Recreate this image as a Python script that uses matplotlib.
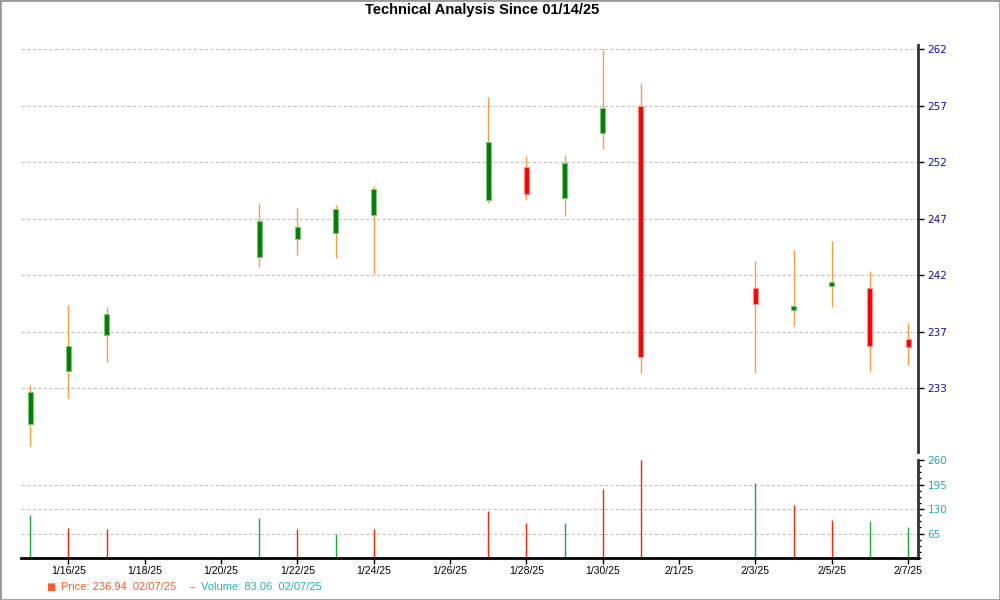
import matplotlib
matplotlib.use("Agg")
import matplotlib.pyplot as plt
import matplotlib.dates as mdates
from matplotlib.ticker import FixedLocator, MultipleLocator
from matplotlib.patches import Rectangle
import pandas as pd

# daily OHLC + volume
dates = ["2025-01-15", "2025-01-16", "2025-01-17", "2025-01-21", "2025-01-22", "2025-01-23",
         "2025-01-24", "2025-01-27", "2025-01-28", "2025-01-29", "2025-01-30", "2025-01-31",
         "2025-02-03", "2025-02-04", "2025-02-05", "2025-02-06", "2025-02-07"]
opens = [229.88, 234.47, 237.60, 244.34, 245.90, 246.42, 247.98, 249.28, 252.19, 249.45,
         255.09, 257.48, 241.65, 239.74, 241.85, 241.65, 237.22]
highs = [233.26, 240.20, 240.03, 249.02, 248.59, 248.85, 250.52, 258.21, 253.12, 253.21,
         262.38, 259.43, 244.01, 244.97, 245.75, 243.15, 238.61]
lows = [227.97, 232.13, 235.25, 243.52, 244.56, 244.30, 242.89, 249.02, 249.31, 247.94,
        253.75, 234.33, 234.33, 238.40, 240.05, 234.41, 235.02]
closes = [232.65, 236.64, 239.42, 247.51, 246.99, 248.55, 250.23, 254.36, 249.80, 252.54,
          257.26, 235.66, 240.29, 240.09, 242.22, 236.67, 236.53]
volumes = [113, 79.6, 76, 106, 77, 63, 77, 124.7, 92.8, 92.8, 183, 260, 199, 140.6, 100.8,
           98, 83.06]
volume_up = [True, False, False, True, False, True, False, False, False, True, False, False,
             True, False, False, True, True]

price_ticks = [233.0, 237.9, 242.8, 247.7, 252.6, 257.5, 262.4]
price_tick_labels = ["233", "237", "242", "247", "252", "257", "262"]
volume_ticks = [65, 130, 195, 260]
date_ticks = pd.date_range("2025-01-16", "2025-02-07", freq="2D")

title = "Technical Analysis Since 01/14/25"
legend_price = "Price: 236.94  02/07/25"
legend_volume = "Volume: 83.06  02/07/25"

GREEN, RED = "#008000", "#ff0000"
WICK = "#f4a040"

x = mdates.date2num(pd.to_datetime(dates))

fig = plt.figure(figsize=(10, 6), dpi=100)
ax = fig.add_axes([0.021, 0.2467, 0.897, 0.678])
axv = fig.add_axes([0.021, 0.07, 0.897, 0.1633], sharex=ax)

# candles
ax.vlines(x, lows, highs, color=WICK, lw=1, zorder=2)
for xi, o, c in zip(x, opens, closes):
    up = c >= o
    ax.bar(xi, max(abs(c - o), 0.25), bottom=min(o, c), width=0.13,
           color=GREEN if up else RED, edgecolor="#80c080" if up else "#ff9090",
           lw=0.8, zorder=3)

# volume sticks
axv.vlines(x, 0, volumes, colors=["#1aaa3a" if u else "#ff2200" for u in volume_up],
           lw=1, zorder=2)

ax.set_xlim(x[0] - 0.24, x[-1] + 0.26)
ax.set_ylim(227.45, 262.75)
axv.set_ylim(0, 260)

for a in (ax, axv):
    for s in ("left", "top"):
        a.spines[s].set_visible(False)
    a.spines["right"].set_linewidth(2)
    a.spines["right"].set_color("#333333")
    a.yaxis.tick_right()
    a.grid(axis="y", linestyle=(0, (3, 2)), color="#c4c4c4", lw=0.8, zorder=0)
    a.set_axisbelow(True)

ax.spines["bottom"].set_visible(False)
ax.tick_params(axis="x", bottom=False, labelbottom=False)
ax.yaxis.set_major_locator(FixedLocator(price_ticks))
ax.set_yticklabels(price_tick_labels)
ax.tick_params(axis="y", direction="out", length=4, width=1, pad=3,
               labelsize=7.5, labelcolor="#1010b0")

axv.spines["bottom"].set_linewidth(2)
axv.yaxis.set_major_locator(FixedLocator(volume_ticks))
axv.yaxis.set_minor_locator(MultipleLocator(16.25))
axv.tick_params(axis="y", which="major", direction="out", length=4, width=1, pad=3,
                labelsize=7.5, labelcolor="#20a8c0")
axv.tick_params(axis="y", which="minor", direction="out", length=2.5, width=1)
axv.set_xticks(mdates.date2num(date_ticks))
axv.set_xticklabels([f"{d.month}/{d.day}/{d:%y}" for d in date_ticks],
                    fontfamily="Liberation Sans", fontsize=7.5)
axv.tick_params(axis="x", direction="out", length=4, width=1, pad=2)
# no dashed line along the top of the volume panel
axv.yaxis.get_gridlines()[-1].set_visible(False)

fig.text(0.482, 1 - 10 / 600, title, ha="center", va="center", fontsize=10.5,
         fontweight="bold", family="Liberation Sans")

fig.text(0.046, 0.022, "■", color="#ff5a28", fontsize=7, va="center")
fig.text(0.061, 0.022, legend_price, color="#ff5a28", fontsize=8, va="center",
         family="Liberation Sans")
fig.text(0.189, 0.022, "–", color="#20b0c0", fontsize=8, va="center")
fig.text(0.201, 0.022, legend_volume, color="#20b0c0", fontsize=8, va="center",
         family="Liberation Sans")

fig.patches.append(Rectangle((0, 0), 1, 1, transform=fig.transFigure, fill=False,
                             edgecolor="#999999", lw=2))

fig.savefig("out.png", dpi=100)
